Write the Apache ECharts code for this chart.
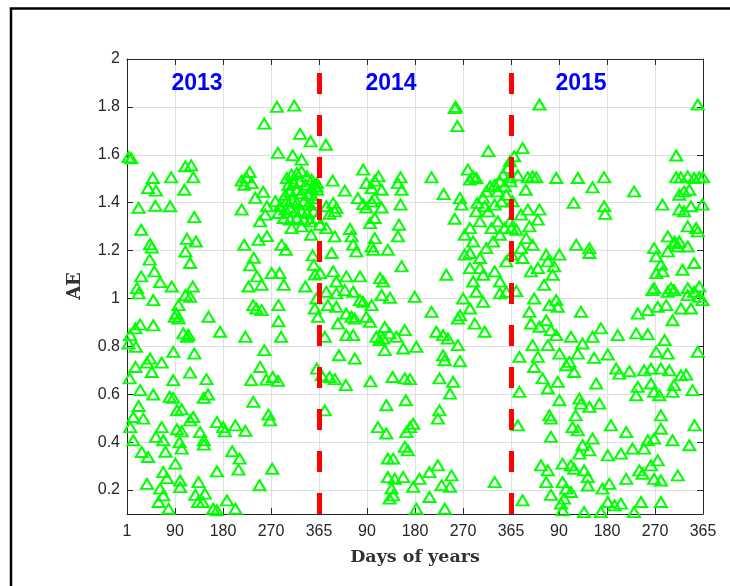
<!DOCTYPE html>
<html>
<head>
<meta charset="utf-8">
<title>AE by day of year, 2013-2015</title>
<script src="https://cdn.jsdelivr.net/npm/echarts@6/dist/echarts.min.js"></script>
<style>
  html, body { margin: 0; padding: 0; background: #ffffff; }
  #chart { width: 730px; height: 586px; }
</style>
</head>
<body>
<div id="chart"></div>
<script>
// Year names, drawn above each block of 365 days
const years = ['2013', '2014', '2015'];

// Tick labels along the day axis (day-of-year restarts every 365 days)
const xTickLabels = ['1', '90', '180', '270', '365', '90', '180', '270', '365', '90', '180', '270', '365'];
const yTickValues = [0.2, 0.4, 0.6, 0.8, 1, 1.2, 1.4, 1.6, 1.8, 2];

// Year boundaries (cumulative day)
const yearBreaks = [365, 730];

// [day of year, AE]
const ae2013 = [
  [3,1.59],[8,1.585],[49,1.503],[84,1.506],[111,1.552],[122,1.556],[126,1.506],[40,1.461],[55,1.45],[109,1.454],
  [22,1.378],[54,1.387],[82,1.385],[128,1.34],[27,1.287],[44,1.227],[47,1.213],[114,1.249],[111,1.196],[131,1.238],
  [120,1.148],[43,1.162],[52,1.113],[27,1.092],[63,1.068],[85,1.05],[125,1.05],[19,1.043],
  [218,1.492],[227,1.506],[233,1.528],[237,1.482],[223,1.475],[259,1.445],[244,1.42],[218,1.371],[266,1.385],[263,1.35],
  [253,1.322],[285,1.8],[318,1.805],[261,1.73],[329,1.687],[349,1.656],[287,1.608],[315,1.598],[332,1.58],
  [304,1.503],[313,1.517],[323,1.524],[332,1.531],[342,1.51],[351,1.496],[361,1.482],[307,1.475],[317,1.482],[329,1.489],
  [339,1.475],[351,1.461],[361,1.454],[301,1.433],[310,1.447],[323,1.454],[332,1.44],[345,1.433],[355,1.419],[304,1.406],
  [313,1.413],[323,1.399],[336,1.406],[345,1.392],[358,1.399],[291,1.385],[301,1.371],[310,1.378],[320,1.364],[332,1.364],
  [342,1.357],[355,1.364],[298,1.336],[310,1.329],[323,1.336],[336,1.329],[348,1.322],[361,1.336],[313,1.294],[332,1.301],
  [288,1.357],[282,1.406],
  [223,1.224],[250,1.245],[266,1.26],[294,1.224],[302,1.203],[241,1.17],[234,1.138],[275,1.106],[290,1.106],[247,1.092],
  [256,1.057],[231,1.05],[298,1.057],[339,1.05],[353,1.18],[355,1.14],[357,1.1],[350,1.266],
  [111,1.014],[120,1.007],[22,1.021],[50,0.993],[98,0.972],[91,0.923],[98,0.916],[94,0.937],[155,0.923],[25,0.891],
  [50,0.888],[16,0.875],[6,0.847],[3,0.812],[17,0.798],[107,0.854],[117,0.847],[114,0.84],[177,0.861],[225,0.84],
  [88,0.777],[128,0.77],[44,0.749],[38,0.732],[66,0.732],[16,0.714],[47,0.693],[5,0.666],[120,0.69],[88,0.659],
  [151,0.663],[25,0.617],[50,0.599],[81,0.589],[88,0.585],[146,0.585],[154,0.599],[22,0.551],[12,0.505],[31,0.498],
  [6,0.463],[95,0.533],[104,0.537],[120,0.491],[126,0.505],[66,0.463],[55,0.422],[69,0.408],[12,0.408],[95,0.454],
  [104,0.445],[100,0.4],[139,0.442],[146,0.408],[146,0.39],[28,0.359],[40,0.338],[73,0.36],[104,0.373],[92,0.31],
  [171,0.484],[183,0.463],[186,0.445],[206,0.47],[225,0.447],[200,0.362],[214,0.331],[212,0.285],[171,0.278],[276,0.289],
  [69,0.275],[76,0.25],[63,0.206],[38,0.226],[101,0.24],[101,0.212],[60,0.15],[69,0.178],[79,0.122],[136,0.233],
  [130,0.18],[148,0.185],[135,0.15],[144,0.15],[190,0.157],[164,0.122],[171,0.115],[206,0.122],[252,0.22],[240,0.568],
  [269,0.515],[272,0.491],[261,0.784],[253,0.714],[236,0.659],[265,0.661],[277,0.672],[287,0.656],[240,0.972],[246,0.958],
  [256,0.951],[288,0.972],[288,0.905],[293,0.84],[361,0.707],[360,1.468],[360,1.0],[357,0.958],[363,0.923]
];

const ae2014 = [
  [13,1.642],[260,1.8],[263,1.72],[258,1.795],[322,1.615],[84,1.538],[113,1.51],[155,1.506],[214,1.506],[26,1.492],
  [49,1.45],[90,1.482],[106,1.492],[119,1.454],[100,1.461],[150,1.482],[157,1.454],[237,1.436],[74,1.419],[84,1.394],
  [100,1.405],[106,1.419],[119,1.38],[90,1.38],[155,1.392],[14,1.385],[27,1.399],[33,1.378],[20,1.353],[30,1.364],
  [268,1.419],[271,1.392],[258,1.333],[283,1.538],[293,1.51],[299,1.503],[287,1.496],[97,1.315],[106,1.336],[152,1.308],
  [59,1.29],[62,1.259],[2,1.308],[14,1.294],[30,1.259],[150,1.259],[71,1.197],[65,1.225],[100,1.217],[106,1.252],
  [103,1.203],[131,1.203],[24,1.19],[157,1.134],[52,1.092],[78,1.092],[116,1.085],[122,1.071],[27,1.113],[33,1.071],
  [2,1.106],[242,1.099],
  [277,1.266],[287,1.294],[293,1.238],[306,1.322],[299,1.364],[312,1.42],[318,1.447],[325,1.468],[334,1.475],[344,1.489],
  [350,1.517],[359,1.545],[363,1.573],[277,1.183],[287,1.19],[306,1.169],[318,1.21],[331,1.238],[344,1.266],[353,1.294],
  [363,1.322],[287,1.127],[306,1.127],[293,1.071],[312,1.099],[334,1.113],[344,1.071],[356,1.155],[322,1.364],[334,1.392],
  [347,1.405],[356,1.433],[340,1.322],[328,1.294],[301,1.399],[315,1.385],[340,1.447],[353,1.468],[363,1.506],[364,1.489],
  [14,1.028],[33,1.021],[49,1.035],[65,1.028],[78,0.993],[84,0.986],[100,0.972],[119,1.014],[135,1.003],[182,1.007],
  [17,0.972],[33,0.965],[52,0.937],[62,0.923],[68,0.916],[90,0.923],[97,0.902],[36,0.895],[52,0.847],[65,0.847],
  [11,0.84],[109,0.84],[125,0.881],[122,0.833],[134,0.854],[115,0.826],[147,0.84],[163,0.868],[160,0.791],[185,0.798],
  [125,0.784],[214,0.944],[268,0.93],[264,0.916],[274,1.0],[287,0.958],[299,1.028],[312,0.986],[296,0.895],[315,0.861],
  [344,1.021],[356,1.028],[223,0.861],[236,0.847],[245,0.833],[264,0.805],[236,0.763],[239,0.742],[268,0.738],[38,0.763],
  [68,0.749],[20,0.672],[30,0.663],[51,0.638],[5,0.679],[98,0.654],[140,0.672],[163,0.666],[173,0.663],[229,0.666],
  [255,0.652],[249,0.603],[11,0.533],[128,0.554],[165,0.575],[229,0.533],[226,0.498],[112,0.463],[128,0.436],[173,0.463],
  [179,0.477],[166,0.442],[163,0.38],[169,0.366],[141,0.331],[131,0.331],[131,0.254],[144,0.247],[160,0.254],[138,0.206],
  [141,0.178],[134,0.164],[179,0.213],[191,0.247],[210,0.275],[226,0.303],[233,0.22],[249,0.213],[252,0.261],[210,0.171],
  [185,0.122],[239,0.122],[334,0.233]
];

const ae2015 = [
  [54,1.81],[355,1.81],[22,1.628],[6,1.594],[314,1.597],[13,1.514],[32,1.506],[41,1.51],[48,1.506],[86,1.503],
  [127,1.503],[177,1.506],[155,1.464],[234,1.447],[28,1.454],[314,1.506],[323,1.506],[336,1.51],[348,1.503],[358,1.506],
  [365,1.506],[320,1.433],[329,1.447],[339,1.454],[119,1.399],[177,1.385],[179,1.353],[288,1.392],[320,1.371],[329,1.364],
  [342,1.385],[364,1.392],[3,1.406],[19,1.35],[32,1.371],[54,1.371],[51,1.329],[35,1.301],[1,1.294],[10,1.287],
  [336,1.301],[352,1.294],[355,1.28],[298,1.259],[311,1.238],[320,1.238],[336,1.217],[124,1.224],[149,1.21],[149,1.19],
  [29,1.252],[41,1.224],[19,1.21],[1,1.183],[22,1.169],[67,1.183],[92,1.183],[82,1.134],[70,1.155],[51,1.127],
  [38,1.113],[79,1.099],[272,1.21],[276,1.176],[298,1.197],[311,1.231],[317,1.217],[285,1.141],[288,1.113],[276,1.106],
  [326,1.12],[348,1.148],[63,1.057],[272,1.043],[304,1.043],[336,1.043],[358,1.05],
  [10,1.031],[44,1.0],[86,0.993],[89,0.965],[73,0.972],[35,0.944],[38,0.895],[67,0.909],[54,0.882],[76,0.868],
  [86,0.847],[114,0.84],[133,0.944],[269,1.035],[298,1.028],[310,1.035],[336,1.014],[348,1.028],[358,1.007],[364,0.993],
  [241,0.937],[260,0.951],[279,0.965],[295,0.972],[323,0.958],[342,0.958],[307,0.909],[171,0.875],[155,0.84],[203,0.847],
  [238,0.854],[260,0.85],[136,0.812],[292,0.826],[298,0.77],[276,0.777],[355,0.777],[41,0.805],[70,0.805],[16,0.756],
  [51,0.756],[44,0.714],[92,0.77],[127,0.77],[111,0.735],[105,0.721],[120,0.693],[158,0.752],[184,0.766],[200,0.707],
  [206,0.686],[225,0.696],[253,0.7],[266,0.707],[285,0.707],[301,0.7],[323,0.679],[333,0.682],[60,0.666],[70,0.624],
  [89,0.652],[162,0.645],[241,0.631],[238,0.596],[266,0.645],[272,0.61],[282,0.596],[307,0.61],[310,0.638],[345,0.617],
  [16,0.61],[92,0.575],[130,0.582],[133,0.561],[149,0.547],[168,0.561],[73,0.512],[123,0.512],[76,0.498],[13,0.47],
  [349,0.47],[285,0.512],[190,0.47],[117,0.463],[127,0.449],[76,0.422],[219,0.442],[285,0.456],[155,0.415],[136,0.387],
  [149,0.366],[130,0.352],[260,0.408],[272,0.415],[307,0.408],[339,0.387],[253,0.373],[231,0.373],[184,0.345],[209,0.352],
  [57,0.303],[70,0.282],[98,0.31],[114,0.303],[139,0.282],[120,0.289],[244,0.282],[250,0.268],[266,0.303],[279,0.324],
  [272,0.247],[285,0.24],[317,0.261],[219,0.247],[67,0.233],[98,0.233],[105,0.206],[114,0.192],[146,0.254],[146,0.219],
  [187,0.226],[174,0.206],[76,0.18],[22,0.157],[95,0.143],[98,0.115],[139,0.108],[171,0.108],[184,0.15],[197,0.136],
  [209,0.143],[234,0.108],[247,0.15],[285,0.15],[101,0.164]
];

// Lay the three years end to end on one continuous day axis
const allPoints = [ae2013, ae2014, ae2015].flatMap(
  (pts, i) => pts.map(([day, ae]) => [i * 365 + day, ae])
);

const X_STEP = 91.25;   // 1095 days / 12 ticks
const axisColor = '#262626';
const gridColor = '#e0e0e0';
const tickFont = { color: axisColor, fontSize: 16, fontFamily: 'Liberation Sans, Arial, sans-serif' };

const chart = echarts.init(document.getElementById('chart'), null, { renderer: 'canvas' });

chart.setOption({
  backgroundColor: '#ffffff',
  animation: false,
  grid: { left: 127, right: 27, top: 59, bottom: 72, containLabel: false },
  xAxis: [
    {
      type: 'value', min: 0, max: 1095, interval: X_STEP,
      axisLine: { show: true, onZero: false, lineStyle: { color: axisColor, width: 1 } },
      axisTick: { show: true, inside: true, length: 6, lineStyle: { color: axisColor } },
      axisLabel: {
        ...tickFont, margin: 10,
        formatter: v => xTickLabels[Math.round(v / X_STEP)] ?? ''
      },
      splitLine: { show: true, lineStyle: { color: gridColor, width: 1 } }
    },
    {
      type: 'value', position: 'top', min: 0, max: 1095, interval: X_STEP,
      axisLine: { show: true, onZero: false, lineStyle: { color: axisColor, width: 1 } },
      axisTick: { show: true, inside: true, length: 6, lineStyle: { color: axisColor } },
      axisLabel: { show: false },
      splitLine: { show: false }
    }
  ],
  yAxis: [
    {
      type: 'value', min: 0.1, max: 2,
      axisLine: { show: true, onZero: false, lineStyle: { color: axisColor, width: 1 } },
      axisTick: { show: true, inside: true, length: 6, customValues: yTickValues, lineStyle: { color: axisColor } },
      axisLabel: { ...tickFont, margin: 7, customValues: yTickValues },
      splitLine: { show: true, lineStyle: { color: gridColor, width: 1 } }
    },
    {
      type: 'value', position: 'right', min: 0.1, max: 2,
      axisLine: { show: true, onZero: false, lineStyle: { color: axisColor, width: 1 } },
      axisTick: { show: true, inside: true, length: 6, customValues: yTickValues, lineStyle: { color: axisColor } },
      axisLabel: { show: false },
      splitLine: { show: false }
    }
  ],
  series: [
    {
      name: 'AE',
      type: 'scatter',
      xAxisIndex: 0, yAxisIndex: 0,
      data: allPoints,
      symbol: 'triangle',
      symbolSize: [12, 10],
      clip: false,
      itemStyle: { color: 'rgba(0,0,0,0)', borderColor: '#00ff00', borderWidth: 2, opacity: 1 },
      emphasis: { disabled: true },
      z: 3
    },
    {
      name: 'year breaks',
      type: 'scatter',
      xAxisIndex: 0, yAxisIndex: 0,
      data: [],
      z: 5,
      markLine: {
        silent: true,
        symbol: ['none', 'none'],
        label: { show: false },
        lineStyle: { color: '#ff0000', width: 5, type: [21, 21], opacity: 1 },
        data: yearBreaks.map(d => [{ coord: [d, 0.1] }, { coord: [d, 2] }]),
        z: 5
      }
    }
  ],
  graphic: [
    // outer frame
    {
      type: 'rect', z: 0,
      shape: { x: 11, y: 8.5, width: 760, height: 620 },
      style: { fill: null, stroke: '#000000', lineWidth: 2.5 }
    },
    // year names
    ...years.map((y, i) => ({
      type: 'text', z: 10,
      x: [197, 391, 581][i], y: 84,
      style: {
        text: y, fill: '#0000ff', font: 'bold 23px "Liberation Sans", Arial, sans-serif',
        textAlign: 'center', textVerticalAlign: 'middle'
      }
    })),
    // axis titles
    {
      type: 'text', z: 10, x: 415, y: 557,
      style: {
        text: 'Days of years', fill: '#333333', font: 'bold 17.5px "DejaVu Serif", serif',
        textAlign: 'center', textVerticalAlign: 'middle'
      }
    },
    {
      type: 'text', z: 10, x: 75, y: 286, rotation: Math.PI / 2,
      style: {
        text: 'AE', fill: '#333333', font: 'bold 18px "DejaVu Serif", serif',
        textAlign: 'center', textVerticalAlign: 'middle'
      }
    }
  ]
});
</script>
</body>
</html>
